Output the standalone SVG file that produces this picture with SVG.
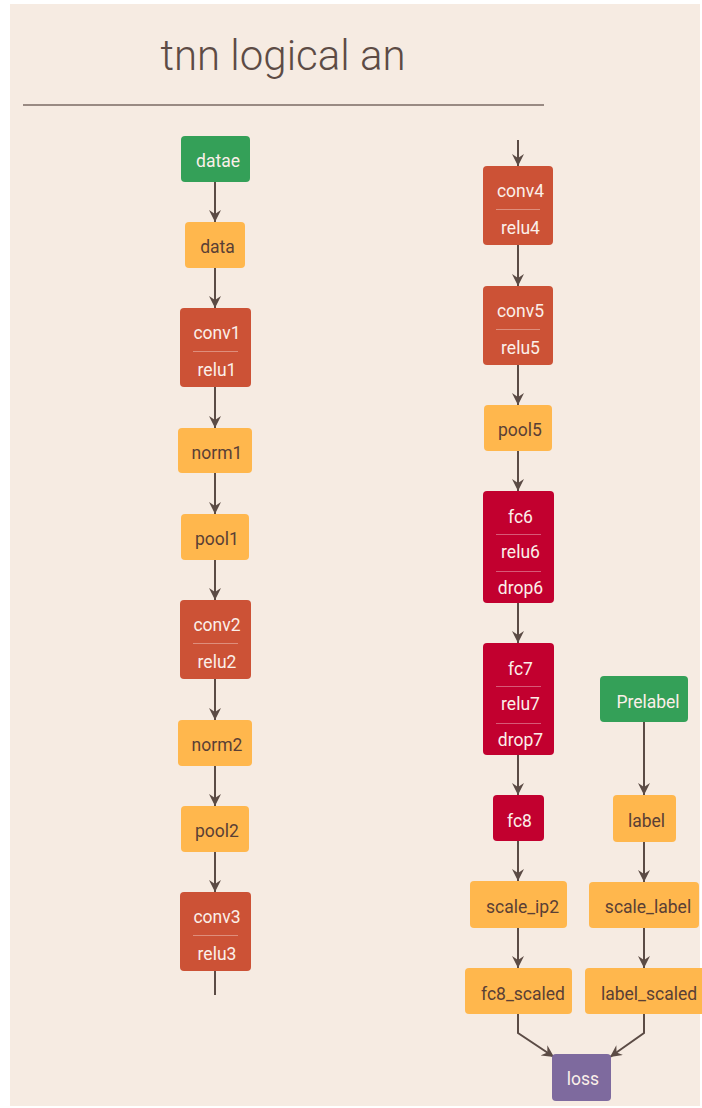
<svg xmlns="http://www.w3.org/2000/svg" width="702" height="1108" viewBox="0 0 702 1108">
<defs>
<style>
.t{font-family:Roboto,"Liberation Sans",sans-serif;font-size:17.5px;text-anchor:middle}
.w{fill:#fbefe9}
.d{fill:#5a3f35}
.g rect.b{fill:#34a058}
.o rect.b{fill:#ffb74d}
.r rect.b{fill:#cc5236}
.c rect.b{fill:#c2002f}
.p rect.b{fill:#7e6a9e}
.div{stroke:#ffffff;stroke-opacity:0.35;stroke-width:1}
.e{stroke:#5b4b45;stroke-width:2;fill:none}
.ea{stroke:#5b4b45;stroke-width:2;fill:none;marker-end:url(#ah)}
</style>
<marker id="ah" markerUnits="userSpaceOnUse" markerWidth="12" markerHeight="12" viewBox="0 0 12 12" refX="12" refY="6" orient="auto">
<path d="M0,0 L12,6 L0,12 L4,6 z" fill="#5b4b45"/>
</marker>
</defs>
<rect x="0" y="0" width="702" height="1108" fill="#ffffff"/>
<rect x="10" y="4" width="690" height="1102" fill="#f6ebe2"/>
<text x="283" y="70" font-family="Roboto,'Liberation Sans',sans-serif" font-weight="300" font-size="42" fill="#5d4b45" text-anchor="middle">tnn logical an</text>
<line x1="23" y1="105" x2="544" y2="105" stroke="#7a6a63" stroke-width="1.5"/>

<g id="connectors">
<line class="ea" x1="215" y1="182" x2="215" y2="222"/>
<line class="ea" x1="215" y1="268" x2="215" y2="308"/>
<line class="ea" x1="215" y1="387" x2="215" y2="428"/>
<line class="ea" x1="215" y1="473" x2="215" y2="514"/>
<line class="ea" x1="215" y1="560" x2="215" y2="600"/>
<line class="ea" x1="215" y1="679" x2="215" y2="720"/>
<line class="ea" x1="215" y1="766" x2="215" y2="806"/>
<line class="ea" x1="215" y1="852" x2="215" y2="892"/>
<line class="e" x1="215" y1="971" x2="215" y2="995"/>
<line class="ea" x1="518" y1="140" x2="518" y2="166"/>
<line class="ea" x1="518" y1="245" x2="518" y2="286"/>
<line class="ea" x1="518" y1="365" x2="518" y2="405"/>
<line class="ea" x1="518" y1="451" x2="518" y2="491"/>
<line class="ea" x1="518" y1="603" x2="518" y2="643"/>
<line class="ea" x1="518" y1="755" x2="518" y2="795"/>
<line class="ea" x1="518" y1="841" x2="518" y2="881"/>
<line class="ea" x1="518" y1="928" x2="518" y2="968"/>
<line class="ea" x1="644" y1="722" x2="644" y2="795"/>
<line class="ea" x1="644" y1="842" x2="644" y2="882"/>
<line class="ea" x1="644" y1="928" x2="644" y2="968"/>
<polyline class="ea" points="518,1014 518,1033 554,1057"/>
<polyline class="ea" points="644,1014 644,1033 610,1057"/>
</g>

<g id="datae" class="g"><rect class="b" x="181" y="136" width="69" height="46" rx="4"/><text class="t w" x="218" y="167">datae</text></g>
<g id="data" class="o"><rect class="b" x="185" y="222" width="60" height="46" rx="4"/><text class="t d" x="217.5" y="253">data</text></g>
<g id="conv1" class="r"><rect class="b" x="180" y="308" width="71" height="79" rx="4"/><text class="t w" x="217" y="339">conv1</text><line class="div" x1="193" y1="351.5" x2="238" y2="351.5"/><text class="t w" x="217" y="376">relu1</text></g>
<g id="norm1" class="o"><rect class="b" x="178" y="428" width="74" height="45" rx="4"/><text class="t d" x="217" y="459">norm1</text></g>
<g id="pool1" class="o"><rect class="b" x="181" y="514" width="68" height="46" rx="4"/><text class="t d" x="217" y="545">pool1</text></g>
<g id="conv2" class="r"><rect class="b" x="180" y="600" width="71" height="79" rx="4"/><text class="t w" x="217" y="631">conv2</text><line class="div" x1="193" y1="643.5" x2="238" y2="643.5"/><text class="t w" x="217" y="668">relu2</text></g>
<g id="norm2" class="o"><rect class="b" x="178" y="720" width="74" height="46" rx="4"/><text class="t d" x="217" y="751">norm2</text></g>
<g id="pool2" class="o"><rect class="b" x="181" y="806" width="68" height="46" rx="4"/><text class="t d" x="217" y="837">pool2</text></g>
<g id="conv3" class="r"><rect class="b" x="180" y="892" width="71" height="79" rx="4"/><text class="t w" x="217" y="923">conv3</text><line class="div" x1="193" y1="935.5" x2="238" y2="935.5"/><text class="t w" x="217" y="960">relu3</text></g>

<g id="conv4" class="r"><rect class="b" x="483" y="166" width="70" height="79" rx="4"/><text class="t w" x="520.5" y="197">conv4</text><line class="div" x1="496" y1="209.5" x2="540" y2="209.5"/><text class="t w" x="520.5" y="234">relu4</text></g>
<g id="conv5" class="r"><rect class="b" x="483" y="286" width="70" height="79" rx="4"/><text class="t w" x="520.5" y="317">conv5</text><line class="div" x1="496" y1="329.5" x2="540" y2="329.5"/><text class="t w" x="520.5" y="354">relu5</text></g>
<g id="pool5" class="o"><rect class="b" x="484" y="405" width="68" height="46" rx="4"/><text class="t d" x="520" y="436">pool5</text></g>
<g id="fc6" class="c"><rect class="b" x="483" y="491" width="71" height="112" rx="4"/><text class="t w" x="520.5" y="523">fc6</text><line class="div" x1="496" y1="534.5" x2="541" y2="534.5"/><text class="t w" x="520.5" y="558">relu6</text><line class="div" x1="496" y1="571.5" x2="541" y2="571.5"/><text class="t w" x="520.5" y="594">drop6</text></g>
<g id="fc7" class="c"><rect class="b" x="483" y="643" width="71" height="112" rx="4"/><text class="t w" x="520.5" y="675">fc7</text><line class="div" x1="496" y1="686.5" x2="541" y2="686.5"/><text class="t w" x="520.5" y="710">relu7</text><line class="div" x1="496" y1="723.5" x2="541" y2="723.5"/><text class="t w" x="520.5" y="746">drop7</text></g>
<g id="fc8" class="c"><rect class="b" x="493" y="795" width="51" height="46" rx="4"/><text class="t w" x="519.5" y="827">fc8</text></g>
<g id="scale_ip2" class="o"><rect class="b" x="470" y="881" width="97" height="47" rx="4"/><text class="t d" x="522.5" y="913">scale_ip2</text></g>
<g id="fc8_scaled" class="o"><rect class="b" x="465" y="968" width="107" height="46" rx="4"/><text class="t d" x="523" y="1000">fc8_scaled</text></g>
<g id="Prelabel" class="g"><rect class="b" x="600" y="676" width="88" height="46" rx="4"/><text class="t w" x="648" y="708">Prelabel</text></g>
<g id="label" class="o"><rect class="b" x="613" y="795" width="63" height="47" rx="4"/><text class="t d" x="646.5" y="827">label</text></g>
<g id="scale_label" class="o"><rect class="b" x="589" y="882" width="110" height="46" rx="4"/><text class="t d" x="648" y="913">scale_label</text></g>
<g id="label_scaled" class="o"><rect class="b" x="585" y="968" width="120" height="46" rx="4"/><text class="t d" x="649" y="1000">label_scaled</text></g>
<g id="loss" class="p"><rect class="b" x="552" y="1054" width="59" height="47" rx="4"/><text class="t w" x="583" y="1085">loss</text></g>
</svg>
